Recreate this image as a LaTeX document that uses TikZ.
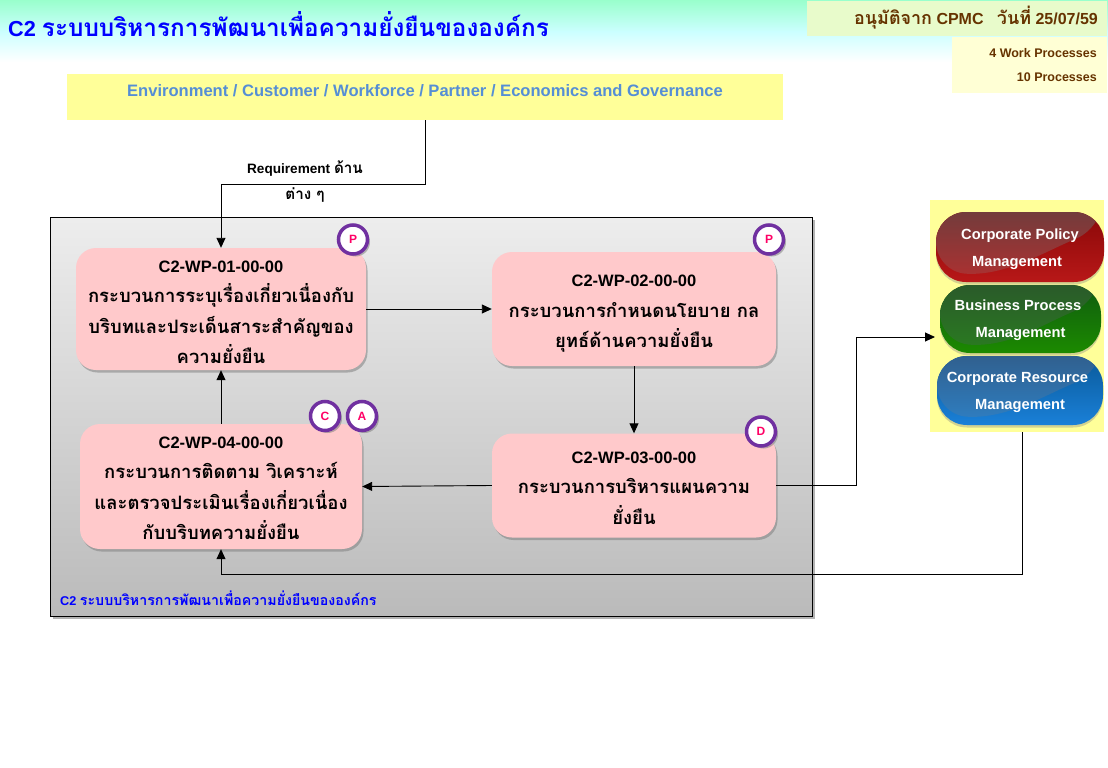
\documentclass[tikz,border=0pt]{standalone}
\usepackage{fontspec}
\setmainfont{Liberation Sans}
\newfontfamily\thaifont[Script=Thai,Scale=1.12]{Loma}
\newcommand{\thai}[1]{{\thaifont #1}}
\newcommand{\tallline}[1]{\rule{0pt}{#1}}
\usetikzlibrary{arrows.meta,shadows,calc}
\definecolor{bannerTop}{HTML}{99FFCC}
\definecolor{bannerMid}{HTML}{CCFFFF}
\definecolor{approvalFill}{HTML}{E8FBCB}
\definecolor{countsFill}{HTML}{FFFFD5}
\definecolor{pinkBox}{HTML}{FFC9CB}
\definecolor{paleYellow}{HTML}{FFFF99}
\definecolor{ringPurple}{HTML}{7030A0}
\definecolor{badgeText}{HTML}{FF0066}
\definecolor{brownText}{HTML}{663300}
\definecolor{envText}{HTML}{558ED5}
\definecolor{redTop}{HTML}{8A0808}
\definecolor{redBottom}{HTML}{B81818}
\definecolor{redGlossTop}{HTML}{733C3C}
\definecolor{redGlossBottom}{HTML}{B03030}
\definecolor{greenTop}{HTML}{0F5C0F}
\definecolor{greenBottom}{HTML}{1C8A00}
\definecolor{greenGlossTop}{HTML}{2A5A2A}
\definecolor{greenGlossBottom}{HTML}{2A7D20}
\definecolor{blueTop}{HTML}{0A5A9A}
\definecolor{blueBottom}{HTML}{1A80D8}
\definecolor{blueGlossTop}{HTML}{30608F}
\definecolor{blueGlossBottom}{HTML}{2F80C4}
\begin{document}
\begin{tikzpicture}[
    x=1pt, y=-1pt,
    every node/.style={font=\bfseries, inner sep=0pt},
    wpbox/.style={rectangle, draw=none, fill=pinkBox, rounded corners=20pt, align=center,
        font=\fontsize{16.5}{30.5}\selectfont\bfseries,
        drop shadow={opacity=.55, shadow xshift=1.5pt, shadow yshift=-2.5pt}},
    badge/.style={circle, draw=ringPurple, line width=3.5pt, fill=white, minimum size=29pt, text=badgeText,
        font=\fontsize{12}{12}\selectfont\bfseries,
        drop shadow={opacity=.55, shadow xshift=2.5pt, shadow yshift=-2.5pt}},
    pill/.style n args={4}{rectangle, rounded corners=30pt, top color=#1, bottom color=#2, text=white, align=center,
        font=\fontsize{14.7}{27}\selectfont\bfseries,
        drop shadow={opacity=.35, shadow xshift=0pt, shadow yshift=-2.5pt},
        path picture={
            \shade[top color=#3, bottom color=#4]
                (path picture bounding box.north west) -- (path picture bounding box.north east)
                -- ++(0,15) .. controls +(-60,25) and +(70,4) .. ($(path picture bounding box.south west)+(0,-10)$) -- cycle;
        }},
    arrow/.style={-{Stealth[length=10pt,width=9pt,inset=0pt]}, line width=.9pt}
]
\useasboundingbox (0,0) rectangle (1108,768);
% -------------------------
% Banner
% -------------------------
    \shade[top color=bannerTop, bottom color=bannerMid] (0,0) rectangle (1108,32);
    \shade[top color=bannerMid, bottom color=white] (0,32) rectangle (1108,62);
    \node[anchor=base west, text=blue, font=\fontsize{21.7}{24}\selectfont\bfseries] (title) at (8,37) {C2 \thai{ระบบบริหารการพัฒนาเพื่อความยั่งยืนขององค์กร}};

    \node[rectangle, fill=approvalFill, minimum width=300pt, minimum height=35pt] (approval) at (957,18.5) {};
    \node[anchor=base east, text=brownText, font=\fontsize{16}{18}\selectfont\bfseries] (approvalText) at (1098,25) {\thai{อนุมัติจาก} CPMC\ \ \ \thai{วันที่} 25/07/59};
    \node[rectangle, fill=countsFill, minimum width=155pt, minimum height=56pt] (counts) at (1029.5,65) {};
    \node[anchor=east, text=brownText, font=\fontsize{12.5}{14}\selectfont\bfseries] (countWork) at (1097,53.5) {4 Work Processes};
    \node[anchor=east, text=brownText, font=\fontsize{12.5}{14}\selectfont\bfseries] (countProc) at (1097,77.5) {10 Processes};

% -------------------------
% Environment box
% -------------------------
    \node[rectangle, fill=paleYellow, minimum width=716pt, minimum height=46pt] (env) at (425,97) {};
    \node[text=envText, font=\fontsize{16.55}{18}\selectfont\bfseries] (envLabel) at (425,91) {Environment / Customer / Workforce / Partner / Economics and Governance};

% -------------------------
% Main container
% -------------------------
    \node[rectangle, draw=black, line width=.9pt, top color=black!7, bottom color=black!27, minimum width=762pt, minimum height=399pt,
        drop shadow={opacity=.6, shadow xshift=2pt, shadow yshift=-3pt}] (main) at (431.7,416.5) {};
    \node[anchor=base west, text=blue, font=\fontsize{12.7}{14}\selectfont\bfseries] (mainLabel) at (60,605) {C2 \thai{ระบบบริหารการพัฒนาเพื่อความยั่งยืนขององค์กร}};

% -------------------------
% Work processes
% -------------------------
    \node[wpbox, minimum width=290pt, minimum height=122pt] (wp1) at (221,309) {\tallline{18pt}C2-WP-01-00-00\\\thai{กระบวนการระบุเรื่องเกี่ยวเนื่องกับ}\\\thai{บริบทและประเด็นสาระสำคัญของ}\\\thai{ความยั่งยืน}};
    \node[wpbox, minimum width=284pt, minimum height=114pt] (wp2) at (634,309) {\tallline{21pt}C2-WP-02-00-00\\\thai{กระบวนการกำหนดนโยบาย กล}\\\thai{ยุทธ์ด้านความยั่งยืน}};
    \node[wpbox, minimum width=284pt, minimum height=104pt] (wp3) at (634,485.5) {\tallline{17pt}C2-WP-03-00-00\\\thai{กระบวนการบริหารแผนความ}\\\thai{ยั่งยืน}};
    \node[wpbox, minimum width=282pt, minimum height=125pt] (wp4) at (221,486.5) {\tallline{15pt}C2-WP-04-00-00\\\thai{กระบวนการติดตาม วิเคราะห์}\\\thai{และตรวจประเมินเรื่องเกี่ยวเนื่อง}\\\thai{กับบริบทความยั่งยืน}};

    % PDCA badges
    \node[badge] (badgeP1) at (353,239.5) {P};
    \node[badge] (badgeP2) at (769,239.5) {P};
    \node[badge] (badgeD) at (761,431.5) {D};
    \node[badge] (badgeC) at (325,416) {C};
    \node[badge] (badgeA) at (362,416) {A};

% -------------------------
% Management column
% -------------------------
    \node[rectangle, fill=paleYellow, minimum width=174pt, minimum height=232pt] (mgmt) at (1017,316) {};
    \node[pill={redTop}{redBottom}{redGlossTop}{redGlossBottom}, minimum width=168pt, minimum height=70pt] (policy) at (1020,247) {\tallline{14.8pt}Corporate Policy\\\hspace*{-6pt}Management};
    \node[pill={greenTop}{greenBottom}{greenGlossTop}{greenGlossBottom}, minimum width=161pt, minimum height=68pt] (business) at (1020.5,319) {\tallline{12.8pt}\hspace*{-5pt}Business Process\\Management};
    \node[pill={blueTop}{blueBottom}{blueGlossTop}{blueGlossBottom}, minimum width=166pt, minimum height=69pt] (resource) at (1020,390.5) {\tallline{14.8pt}\hspace*{-5pt}Corporate Resource\\Management};

% -------------------------
% Arrows & Routing
% -------------------------
    \coordinate (reqTop) at (425,184);
    \coordinate (reqLeft) at (221,184);
    \coordinate (outMid) at (856,485.5);
    \coordinate (outTop) at (856,337);
    \coordinate (inTarget) at (935,337);
    \coordinate (backRight) at (1022,574);
    \coordinate (backLeft) at (221,574);
    \coordinate (mgmtOut) at (1022,432);

    \draw[arrow] (env.south) -- (reqTop) -- (reqLeft) -- (wp1.north);
    \node[align=center, font=\fontsize{13.6}{26}\selectfont\bfseries] (reqLabel) at (305,182) {Requirement \thai{ด้าน}\\\thai{ต่าง ๆ}};

    \draw[arrow] (wp1.east) -- (wp2.west);
    \draw[arrow] (wp2.south) -- (wp3.north);
    \draw[arrow] (wp3.west) -- (wp4.east);
    \draw[arrow] (wp4.north) -- (wp1.south);
    \draw[arrow] (wp3.east) -- (outMid) -- (outTop) -- (inTarget);
    \draw[arrow] (mgmtOut) -- (backRight) -- (backLeft) -- (wp4.south);
\end{tikzpicture}
\end{document}
